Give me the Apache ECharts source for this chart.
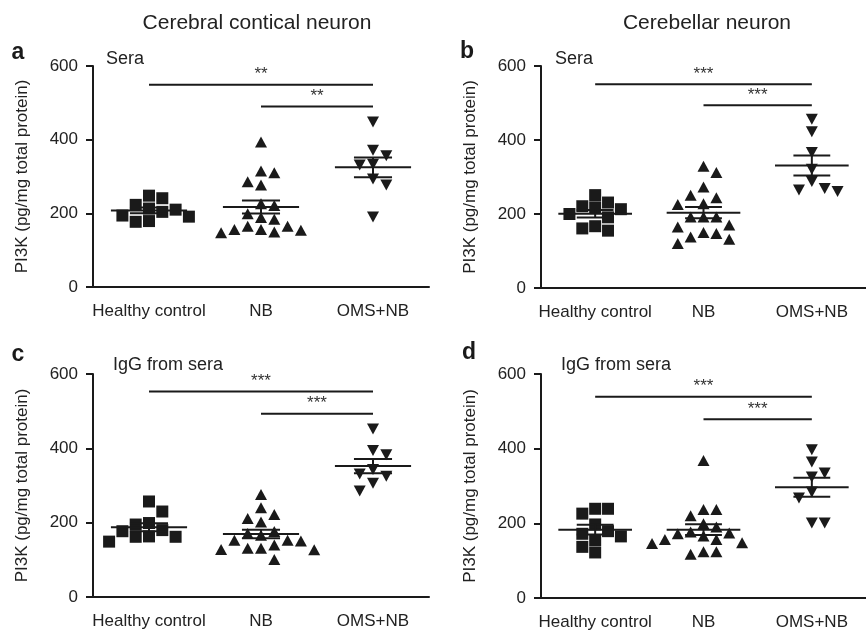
<!DOCTYPE html>
<html>
<head>
<meta charset="utf-8">
<script src="https://cdn.jsdelivr.net/npm/echarts@6/dist/echarts.min.js"></script>
<style>
  html, body { margin: 0; padding: 0; background: #fff; }
  #chart { width: 866px; height: 631px; }
</style>
</head>
<body>
<div id="chart"></div>
<script>
// PI3K levels (pg/mg total protein) in neurons exposed to patient sera / IgG
const groups = ['Healthy control', 'NB', 'OMS+NB'];
const yTicks = [0, 200, 400, 600];

// a: cerebral cortical neurons, sera
const cortexSeraHealthy = [204, 241, 191, 223, 210, 213, 177, 248, 179, 194];
const cortexSeraNB = [394, 315, 310, 286, 277, 221, 226, 189, 184, 199, 165, 165, 156, 154, 147, 149, 156];
const cortexSeraOMS = [448, 371, 356, 331, 333, 293, 277, 190];

// b: cerebellar neurons, sera
const cerebSeraHealthy = [221, 213, 251, 200, 218, 231, 191, 167, 155, 161];
const cerebSeraNB = [329, 312, 273, 251, 244, 226, 228, 192, 192, 192, 170, 165, 150, 147, 138, 132, 120];
const cerebSeraOMS = [456, 422, 366, 321, 288, 269, 261, 265];

// c: cerebral cortical neurons, IgG from sera
const cortexIgGHealthy = [257, 230, 177, 199, 162, 195, 180, 149, 162, 163];
const cortexIgGNB = [276, 240, 222, 211, 202, 176, 171, 166, 153, 151, 153, 131, 128, 140, 127, 131, 101];
const cortexIgGOMS = [452, 394, 383, 331, 325, 343, 306, 285];

// d: cerebellar neurons, IgG from sera
const cerebIgGHealthy = [197, 239, 239, 226, 179, 155, 165, 172, 137, 122];
const cerebIgGNB = [368, 237, 237, 220, 199, 190, 172, 157, 177, 157, 166, 174, 148, 146, 124, 117, 124];
const cerebIgGOMS = [397, 364, 335, 324, 284, 268, 201, 201];

// significance: [from group, to group, level, stars]
const sigA = [[1, 3, 549, '**'], [2, 3, 490, '**']];
const sigB = [[1, 3, 551, '***'], [2, 3, 494, '***']];
const sigC = [[1, 3, 553, '***'], [2, 3, 493, '***']];
const sigD = [[1, 3, 539, '***'], [2, 3, 479, '***']];

const columnTitles = ['Cerebral contical neuron', 'Cerebellar neuron'];
const yName = 'PI3K (pg/mg total protein)';

// ---------------------------------------------------------------
const FONT = '"Liberation Sans", Arial, Helvetica, sans-serif';
const INK = '#1a1a1a';
const TEXT = '#222';
const GRID_W = 336;

const panels = [
  { letter: 'a', sub: 'Sera', data: [cortexSeraHealthy, cortexSeraNB, cortexSeraOMS], sig: sigA,
    left: 93, top: 66, height: 221, subX: 106, subY: 59, letterX: 18, letterY: 53, nameX: 22 },
  { letter: 'b', sub: 'Sera', data: [cerebSeraHealthy, cerebSeraNB, cerebSeraOMS], sig: sigB,
    left: 541, top: 66, height: 222, subX: 555, subY: 59, letterX: 467, letterY: 52, nameX: 470 },
  { letter: 'c', sub: 'IgG from sera', data: [cortexIgGHealthy, cortexIgGNB, cortexIgGOMS], sig: sigC,
    left: 93, top: 374, height: 223, subX: 113, subY: 365, letterX: 18, letterY: 355, nameX: 22 },
  { letter: 'd', sub: 'IgG from sera', data: [cerebIgGHealthy, cerebIgGNB, cerebIgGOMS], sig: sigD,
    left: 541, top: 374, height: 224, subX: 561, subY: 365, letterX: 469, letterY: 353, nameX: 470 }
];

function meanSem(v) {
  const n = v.length;
  const m = v.reduce((s, x) => s + x, 0) / n;
  const sd = Math.sqrt(v.reduce((s, x) => s + (x - m) * (x - m), 0) / (n - 1));
  return [m, sd / Math.sqrt(n)];
}

// Column scatter layout: nearby values are spread sideways so markers don't overlap
function swarm(values, center, pxPerY, pxPerX) {
  const step = 13.3, half = step / 2, rowH = 12;
  const order = values.map((_, i) => i).sort((a, b) => values[b] - values[a]);
  const placed = [];
  const out = new Array(values.length);
  let flip = 1;
  order.forEach(i => {
    const y = values[i] * pxPerY;
    for (let k = 0; k < 30; k++) {
      const cands = k === 0 ? [0] : [flip * k * half, -flip * k * half];
      let found = null;
      for (const dx of cands) {
        const ok = placed.every(p => Math.abs(p.dx - dx) >= step - 0.5 || Math.abs(p.y - y) >= rowH);
        if (ok) { found = dx; break; }
      }
      if (found !== null) {
        if (found !== 0) flip = -Math.sign(found);
        placed.push({ dx: found, y });
        out[i] = [center + found / pxPerX, values[i]];
        break;
      }
    }
  });
  return out;
}

const grid = [], xAxis = [], yAxis = [], series = [], graphic = [];

panels.forEach((p, g) => {
  grid.push({ left: p.left, top: p.top, width: GRID_W, height: p.height });
  const pxPerY = p.height / 600;
  const pxPerX = GRID_W / 3;

  xAxis.push({
    type: 'category', gridIndex: g, data: groups, boundaryGap: true,
    axisLine: { lineStyle: { color: INK, width: 2 } },
    axisTick: { alignWithLabel: true, length: 6, lineStyle: { color: INK, width: 2 } },
    axisLabel: { interval: 0, fontSize: 17, fontFamily: FONT, color: TEXT, margin: 16 }
  });
  xAxis.push({ type: 'value', gridIndex: g, min: 0.5, max: 3.5, show: false });

  yAxis.push({
    type: 'value', gridIndex: g, min: yTicks[0], max: yTicks[yTicks.length - 1],
    interval: yTicks[1] - yTicks[0],
    axisLine: { show: true, lineStyle: { color: INK, width: 2 } },
    axisTick: { show: true, length: 7, lineStyle: { color: INK, width: 2 } },
    splitLine: { show: false },
    axisLabel: { fontSize: 17, fontFamily: FONT, color: TEXT, margin: 15 }
  });

  const shapes = [
    { symbol: 'rect', symbolSize: [12, 12], symbolRotate: 0 },
    { symbol: 'triangle', symbolSize: [12, 11], symbolRotate: 0 },
    { symbol: 'triangle', symbolSize: [12, 11], symbolRotate: 180 }
  ];

  p.data.forEach((vals, k) => {
    series.push({
      type: 'scatter', xAxisIndex: 2 * g + 1, yAxisIndex: g,
      symbol: shapes[k].symbol, symbolSize: shapes[k].symbolSize, symbolRotate: shapes[k].symbolRotate,
      itemStyle: { color: INK, opacity: 1 },
      data: swarm(vals, k + 1, pxPerY, pxPerX),
      silent: true, z: 2
    });
  });

  // mean with SEM whiskers
  series.push({
    type: 'custom', xAxisIndex: 2 * g + 1, yAxisIndex: g, z: 3, silent: true,
    data: p.data.map((vals, k) => [k + 1].concat(meanSem(vals))),
    renderItem: (params, api) => {
      const x = api.value(0), m = api.value(1), se = api.value(2);
      const c = (vx, vy) => api.coord([vx, vy]);
      const seg = (a, b) => ({ type: 'line', shape: { x1: a[0], y1: a[1], x2: b[0], y2: b[1] },
        style: { stroke: INK, lineWidth: 2 } });
      return { type: 'group', children: [
        seg(c(x - 0.34, m), c(x + 0.34, m)),
        seg(c(x - 0.17, m + se), c(x + 0.17, m + se)),
        seg(c(x - 0.17, m - se), c(x + 0.17, m - se)),
        seg(c(x, m - se), c(x, m + se))
      ] };
    }
  });

  // significance bars
  series.push({
    type: 'custom', xAxisIndex: 2 * g + 1, yAxisIndex: g, z: 3, silent: true,
    data: p.sig.map(s => [s[0], s[1], s[2]]),
    renderItem: (params, api) => {
      const a = api.coord([api.value(0), api.value(2)]);
      const b = api.coord([api.value(1), api.value(2)]);
      return { type: 'group', children: [
        { type: 'line', shape: { x1: a[0], y1: a[1], x2: b[0], y2: b[1] }, style: { stroke: INK, lineWidth: 2 } },
        { type: 'text', x: (a[0] + b[0]) / 2, y: a[1] - 10,
          style: { text: p.sig[params.dataIndex][3], align: 'center', verticalAlign: 'middle',
            fontSize: 17, fontFamily: FONT, fill: '#333' } }
      ] };
    }
  });

  graphic.push(
    { type: 'text', x: p.letterX, y: p.letterY,
      style: { text: p.letter, align: 'center', verticalAlign: 'middle', fontSize: 23, fontWeight: 'bold', fontFamily: FONT, fill: INK } },
    { type: 'text', x: p.subX, y: p.subY,
      style: { text: p.sub, align: 'left', verticalAlign: 'middle', fontSize: 18, fontFamily: FONT, fill: TEXT } },
    { type: 'text', x: p.nameX, y: p.top + p.height / 2, rotation: Math.PI / 2,
      style: { text: yName, align: 'center', verticalAlign: 'middle', fontSize: 17, fontFamily: FONT, fill: TEXT } }
  );
});

graphic.push(
  { type: 'text', x: 257, y: 23, style: { text: columnTitles[0], align: 'center', verticalAlign: 'middle', fontSize: 21, fontFamily: FONT, fill: TEXT } },
  { type: 'text', x: 707, y: 23, style: { text: columnTitles[1], align: 'center', verticalAlign: 'middle', fontSize: 21, fontFamily: FONT, fill: TEXT } }
);

const chart = echarts.init(document.getElementById('chart'), null, { renderer: 'canvas' });
chart.setOption({
  animation: false,
  backgroundColor: '#fff',
  grid, xAxis, yAxis, series, graphic
});
</script>
</body>
</html>
